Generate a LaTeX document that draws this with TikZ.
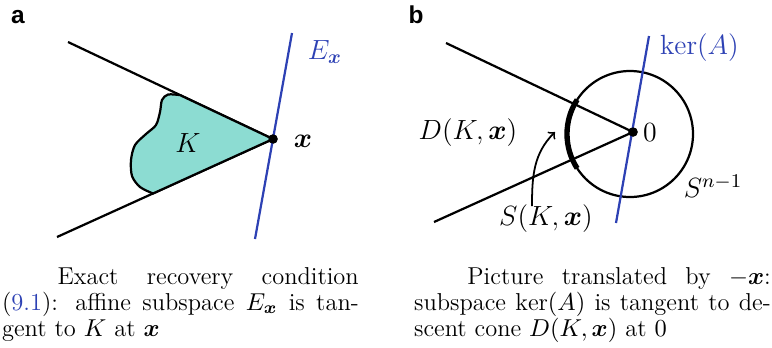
\documentclass[tikz,border=0pt]{standalone}
\usepackage{fix-cm}
\usepackage{amsmath,bm}
\usepackage{fontspec}
\newfontfamily\panelfont{Liberation Sans}
\definecolor{kerblue}{RGB}{45,65,180}
\definecolor{conefill}{RGB}{140,220,210}
\begin{document}
\begin{tikzpicture}[x=0.45pt, y=0.45pt, >=to, line width=1pt,
    lbl/.style={inner sep=0pt, font=\fontsize{12.5}{15}\selectfont},
    panel/.style={inner sep=0pt, font=\panelfont\fontsize{11}{13}\selectfont\bfseries},
    captxt/.style={inner sep=0pt, anchor=north west, text width=160.5pt, align=justify, font=\fontsize{11}{11.7}\selectfont},
    dot/.style={circle, fill, inner sep=0pt, minimum size=4.2pt}]
    \useasboundingbox (0,0) rectangle (772,-347);
    % panel a
    \node[panel] (a) at (18,-17) {a};
    \node[dot] (x) at (273,-139) {};
    \coordinate (up) at (68,-42);
    \coordinate (lo) at (57,-237);
    \coordinate (et) at (292,-33);
    \coordinate (eb) at (255,-239);
    \draw (up) -- (x.center);
    \draw (lo) -- (x.center);
    \filldraw[fill=conefill] plot[smooth] coordinates {(180,-95.1) (168,-94.5) (162,-100) (160,-112) (156,-125) (146,-134) (135,-145) (131,-160) (132,-176) (140,-187) (153,-193.5)} -- (x.center) -- cycle;
    \draw[kerblue] (et) -- (eb);
    \node[dot] at (x) {};
    \node[lbl] (K) at (188,-143) {$K$};
    \node[lbl, kerblue] (Ex) at (325,-52) {$E_{\bm x}$};
    \node[lbl] (xl) at (303,-141) {$\bm x$};
    % panel b
    \node[panel] (b) at (416,-15) {b};
    \node[dot] (o) at (633,-132) {};
    \coordinate (c) at (630,-134);
    \coordinate (up2) at (446,-43);
    \coordinate (lo2) at (434,-222);
    \coordinate (kt) at (649,-36);
    \coordinate (kb) at (616,-223);
    \draw (c) circle[radius=63];
    \draw[line width=2.4pt] (c) ++(147:63) arc[start angle=147, end angle=213, radius=63];
    \draw (up2) -- (o.center);
    \draw (lo2) -- (o.center);
    \draw[kerblue] (kt) -- (kb);
    \node[dot] at (o) {};
    \node[lbl] (zero) at (650,-133) {$0$};
    \node[lbl, kerblue, anchor=west] (ker) at (659,-48) {$\ker(A)$};
    \node[lbl] (D) at (468,-133) {$D(K,\bm x)$};
    \node[lbl] (sph) at (713,-186) {$S^{n-1}$};
    \node[lbl] (S) at (546,-219) {$S(K,\bm x)$};
    \coordinate (as) at (532,-206);
    \draw[->, line width=0.8pt] (as) to[out=90, in=225] (555,-132);
    % captions
    \node[captxt] (capa) at (1,-266) {\hspace*{25pt}Exact recovery condition\linebreak (\textcolor{kerblue}{9.1}): affine subspace $E_{\bm x}$ is tan-\linebreak gent to $K$ at $\bm x$};
    \node[captxt] (capb) at (413,-266) {\hspace*{24pt}Picture translated by $-\bm x$:\linebreak subspace $\ker(A)$ is tangent to de-\linebreak scent cone $D(K,\bm x)$ at $0$};
\end{tikzpicture}
\end{document}
